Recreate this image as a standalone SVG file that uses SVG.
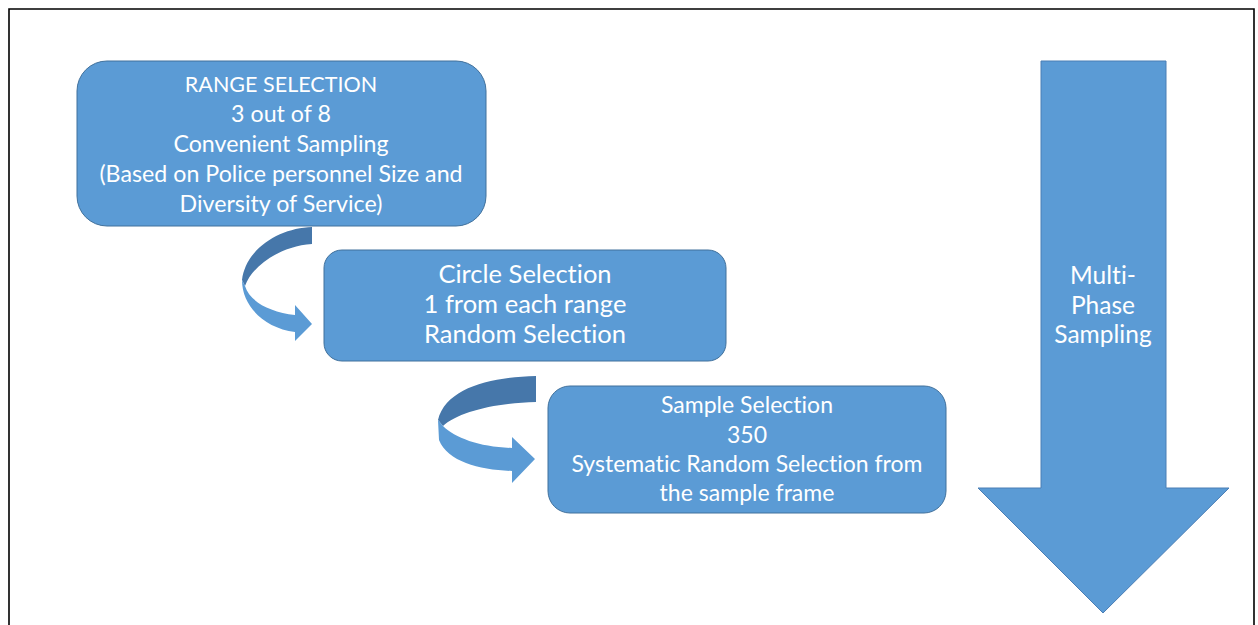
<svg xmlns="http://www.w3.org/2000/svg" width="1258" height="625" viewBox="0 0 1258 625">
<style>
.box{fill:#5B9BD5;stroke:#41719C;stroke-width:1}
.t{font-family:Lato,"Open Sans","Liberation Sans",sans-serif;fill:#ffffff;text-anchor:middle;font-variant-ligatures:none;font-feature-settings:"liga" 0;letter-spacing:0.02px}
.dark{fill:#4677AA}
.light{fill:#5B9BD5}
</style>
<rect width="1258" height="625" fill="#ffffff"/>
<path d="M9,625 V9 H1254 V625" fill="none" stroke="#000" stroke-width="1.6"/>

<g id="phase-arrow">
<polygon points="1041,61 1166,61 1166,488 1229,488 1103,613 978,488 1041,488" fill="#5B9BD5" stroke="#4A7EB5" stroke-width="1"/>
<text class="t" font-size="24.5" x="1103" y="284">Multi-</text>
<text class="t" font-size="24.5" x="1103" y="314">Phase</text>
<text class="t" font-size="24.5" x="1103" y="343">Sampling</text>
</g>

<g id="range-selection">
<rect class="box" x="77" y="61" width="409" height="165" rx="30"/>
<text class="t" font-size="21.5" x="281" y="92">RANGE SELECTION</text>
<text class="t" font-size="23.2" x="281" y="122">3 out of 8</text>
<text class="t" font-size="23.2" x="281" y="152">Convenient Sampling</text>
<text class="t" font-size="23.2" x="281" y="182">(Based on Police personnel Size and</text>
<text class="t" font-size="23.2" x="281" y="212">Diversity of Service)</text>
</g>

<g id="circle-selection">
<rect class="box" x="324" y="250" width="402" height="111" rx="18"/>
<text class="t" font-size="25.5" x="525" y="283">Circle Selection</text>
<text class="t" font-size="25.5" x="525" y="313">1 from each range</text>
<text class="t" font-size="25.5" x="525" y="343">Random Selection</text>
</g>

<g id="sample-selection">
<rect class="box" x="548" y="386" width="398" height="127" rx="22"/>
<text class="t" font-size="23" x="747" y="413">Sample Selection</text>
<text class="t" font-size="23" x="747" y="443">350</text>
<text class="t" font-size="23" x="747" y="472">Systematic Random Selection from</text>
<text class="t" font-size="23" x="747" y="501">the sample frame</text>
</g>

<g id="connectors">
<g id="curve-1">
<path class="dark" d="M312,227 C280,228 246,248 242,280 L245,286 C252,266 280,246 312,244 Z"/>
<path class="light" d="M242,280 C242,306 264,328 295,332 L295,341 L312,324 L295,305 L295,315 C270,312 250,302 245,286 Z"/>
</g>
<g id="curve-2">
<path class="dark" d="M536,376 C490,377 446,388 438,420 L443,426 C458,412 495,403 536,402 Z"/>
<path class="light" d="M438,420 L439,440 C448,462 480,470 512,471 L512,483 L535,459 L512,437 L512,448 C480,447 455,438 443,426 Z"/>
</g>
</g>
</svg>
